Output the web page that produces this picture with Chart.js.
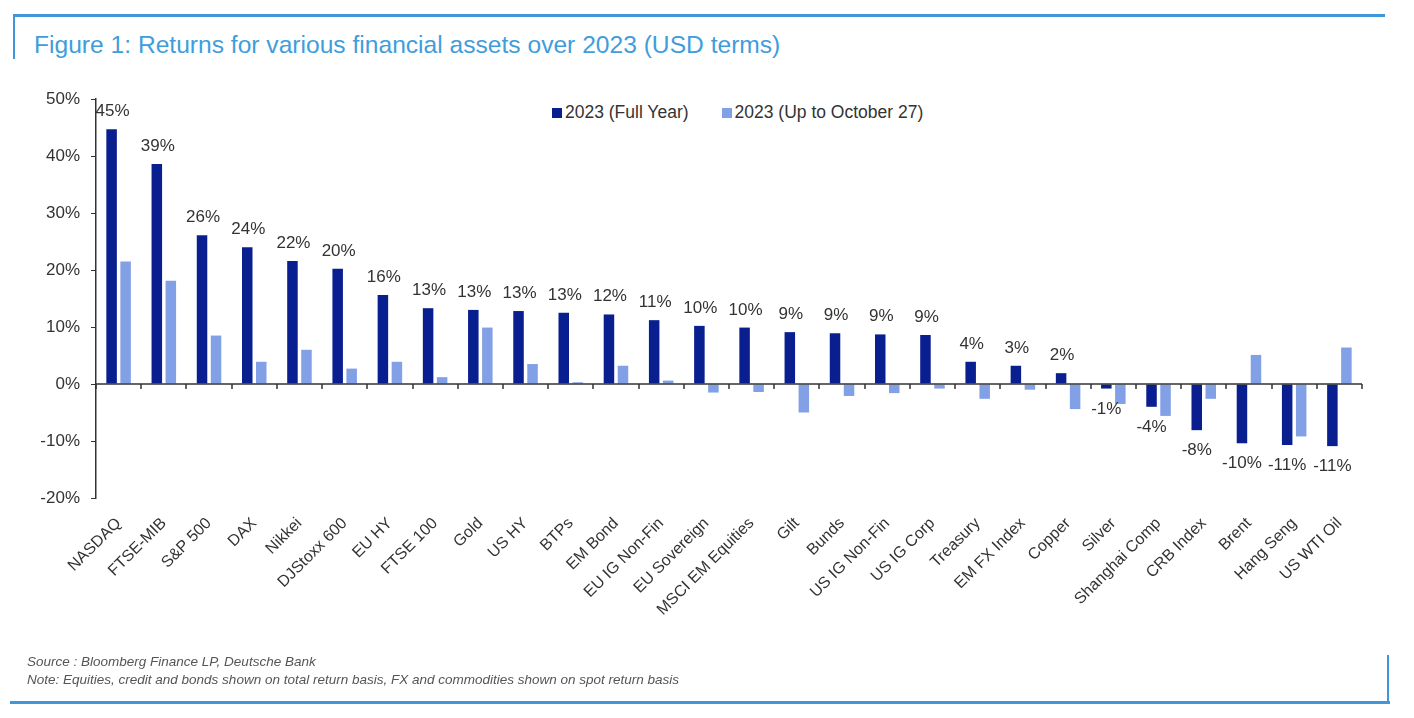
<!DOCTYPE html>
<html>
<head>
<meta charset="utf-8">
<script src="https://cdn.jsdelivr.net/npm/chart.js@4"></script>
<style>
  body { margin: 0; background: #fff; font-family: "Liberation Sans", Arial, sans-serif; }
  #wrap { position: relative; width: 1414px; height: 718px; overflow: hidden; }
  canvas { position: absolute; left: 0; top: 0; }
  .frame { position: absolute; background: #3f97d9; }
  #title { position: absolute; left: 34px; top: 31px; font-size: 24.6px; color: #3f9ddc; white-space: nowrap; }
  #legend { position: absolute; top: 102px; left: 552px; font-size: 17.5px; color: #333; white-space: nowrap; }
  #legend span.item { margin-right: 33px; }
  #legend i { display: inline-block; width: 10px; height: 10px; margin-right: 3px; vertical-align: 0px; }
  .note { position: absolute; left: 27px; font-style: italic; font-size: 13.5px; color: #555; white-space: nowrap; }
</style>
</head>
<body>
<div id="wrap">
  <div class="frame" style="left:13px; top:14px; width:1372px; height:3px;"></div>
  <div class="frame" style="left:13px; top:14px; width:2px; height:45px;"></div>
  <div class="frame" style="left:10px; top:701px; width:1380px; height:3px;"></div>
  <div class="frame" style="left:1387px; top:655px; width:2px; height:48px;"></div>
  <div id="title">Figure 1: Returns for various financial assets over 2023 (USD terms)</div>
  <div id="legend"></div>
  <canvas id="returnsChart" width="1414" height="718"></canvas>
  <div class="note" style="top:654px;">Source : Bloomberg Finance LP, Deutsche Bank</div>
  <div class="note" style="top:672px;">Note: Equities, credit and bonds shown on total return basis, FX and commodities shown on spot return basis</div>
</div>
<script>
// asset classes, left to right
const assets = [
  'NASDAQ', 'FTSE-MIB', 'S&P 500', 'DAX', 'Nikkei', 'DJStoxx 600', 'EU HY',
  'FTSE 100', 'Gold', 'US HY', 'BTPs', 'EM Bond', 'EU IG Non-Fin',
  'EU Sovereign', 'MSCI EM Equities', 'Gilt', 'Bunds', 'US IG Non-Fin',
  'US IG Corp', 'Treasury', 'EM FX Index', 'Copper', 'Silver',
  'Shanghai Comp', 'CRB Index', 'Brent', 'Hang Seng', 'US WTI Oil'
];

// returns in %
const fullYear = [
  44.7, 38.6, 26.1, 24.0, 21.6, 20.2, 15.6, 13.3, 13.0, 12.8, 12.5, 12.2,
  11.2, 10.2, 9.9, 9.1, 8.9, 8.7, 8.6, 3.9, 3.2, 1.9, -0.8, -4.0, -8.1,
  -10.4, -10.7, -10.9
];
const upToOct27 = [
  21.5, 18.1, 8.5, 3.9, 6.0, 2.7, 3.9, 1.2, 9.9, 3.5, 0.3, 3.2, 0.6, -1.5,
  -1.4, -5.0, -2.1, -1.6, -0.8, -2.6, -1.0, -4.4, -3.5, -5.6, -2.6, 5.1,
  -9.2, 6.4
];

const seriesNames = ['2023 (Full Year)', '2023 (Up to October 27)'];
const seriesColors = ['#0a1f8f', '#82a0e6'];

const yMin = -20;
const yMax = 50;
const yStep = 10;

const textColor = '#333';
const font = '"Liberation Sans", Arial, sans-serif';

// legend
const legend = document.getElementById('legend');
seriesNames.forEach((name, i) => {
  const item = document.createElement('span');
  item.className = 'item';
  item.innerHTML = '<i style="background:' + seriesColors[i] + '"></i>' + name;
  legend.appendChild(item);
});

// zero line with category tick marks, and rounded labels on the full year bars
const zeroAxis = {
  id: 'zeroAxis',
  afterDatasetsDraw(chart) {
    const ctx = chart.ctx;
    const x = chart.scales.x;
    const y = chart.scales.y;
    const y0 = y.getPixelForValue(0);
    const step = x.width / assets.length;

    ctx.save();
    ctx.strokeStyle = '#333';
    ctx.lineWidth = 1.5;
    ctx.beginPath();
    ctx.moveTo(x.left, y0);
    ctx.lineTo(x.right, y0);
    for (let i = 0; i <= assets.length; i++) {
      const px = Math.round(x.getPixelForTick(0) - step / 2 + i * step);
      ctx.moveTo(px, y0);
      ctx.lineTo(px, y0 + 5);
    }
    ctx.stroke();

    ctx.fillStyle = textColor;
    ctx.font = '17px ' + font;
    ctx.textAlign = 'center';
    const meta = chart.getDatasetMeta(0);
    meta.data.forEach((bar, i) => {
      const v = fullYear[i];
      const txt = Math.round(v) + '%';
      if (v >= 0) {
        ctx.textBaseline = 'alphabetic';
        ctx.fillText(txt, bar.x + 1, bar.y - 13);
      } else {
        ctx.textBaseline = 'top';
        ctx.fillText(txt, bar.x, bar.y + 12);
      }
    });
    ctx.restore();
  }
};

new Chart(document.getElementById('returnsChart').getContext('2d'), {
  type: 'bar',
  data: {
    labels: assets,
    datasets: [
      {
        label: seriesNames[0],
        data: fullYear,
        backgroundColor: seriesColors[0],
        categoryPercentage: 0.62,
        barPercentage: 0.75,
      },
      {
        label: seriesNames[1],
        data: upToOct27,
        backgroundColor: seriesColors[1],
        categoryPercentage: 0.62,
        barPercentage: 0.75,
      },
    ],
  },
  options: {
    responsive: false,
    animation: false,
    layout: { padding: { left: 0, right: 52, top: 99, bottom: 0 } },
    plugins: {
      legend: { display: false },
      tooltip: { enabled: false },
    },
    scales: {
      x: {
        grid: { display: false },
        border: { display: false },
        ticks: {
          autoSkip: false,
          minRotation: 45,
          maxRotation: 45,
          padding: 8,
          color: textColor,
          font: { family: font, size: 16 },
        },
        afterFit(scale) {
          scale.height = 220;
        },
      },
      y: {
        min: yMin,
        max: yMax,
        ticks: {
          stepSize: yStep,
          padding: 11,
          color: textColor,
          font: { family: font, size: 17 },
          callback: (v) => v + '%',
        },
        grid: {
          drawOnChartArea: false,
          drawTicks: true,
          tickLength: 5,
          color: '#333',
        },
        border: { display: true, color: '#333', width: 1.5 },
        afterFit(scale) {
          scale.width = 96;
        },
      },
    },
  },
  plugins: [zeroAxis],
});
</script>
</body>
</html>
